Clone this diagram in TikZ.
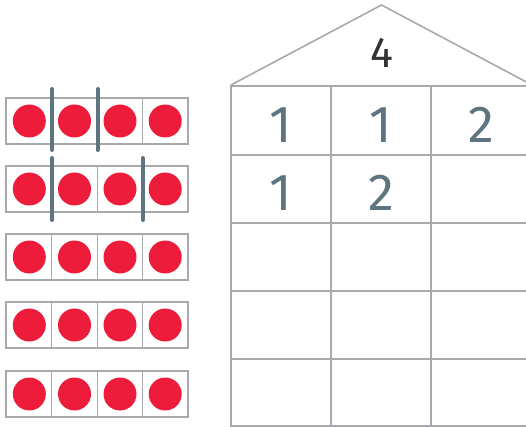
\documentclass[tikz,border=0pt]{standalone}
\usepackage{fontspec}
\setmainfont{Fira Sans}
\definecolor{framegray}{HTML}{A7A9AC}
\definecolor{dotred}{HTML}{EE1C3B}
\definecolor{slate}{HTML}{5E7480}
\definecolor{darktxt}{HTML}{333333}
\begin{document}
\begin{tikzpicture}[x=1pt,y=-1pt,
  frameline/.style={draw=framegray,line width=2pt},
  cellline/.style={draw=framegray,line width=1.2pt},
  dot/.style={circle,fill=dotred,inner sep=0pt,minimum size=33pt},
  cut/.style={draw=slate,line width=4pt,line cap=round},
  gridline/.style={draw=framegray,line width=2pt},
  roofline/.style={draw=framegray,line width=1.6pt},
  num/.style={text=slate,font=\fontsize{52}{52}\selectfont,inner sep=0pt},
  topnum/.style={text=darktxt,font=\fontsize{43}{43}\selectfont,inner sep=0pt}]
\useasboundingbox (0,0) rectangle (526,427);
% ten frames
\foreach \r/\y in {1/98,2/166,3/234,4/302,5/371}{
  \fill[white] (6,\y) rectangle (188,\y+46);
  \foreach \c/\x in {1/51.7,2/97.3,3/142.7}{
    \draw[cellline] (\x,\y) -- (\x,\y+46);
  }
  \draw[frameline] (6,\y) rectangle (188,\y+46);
  \foreach \c/\x in {1/29.3,2/74.5,3/120,4/165.2}{
    \node[dot] (d\r\c) at (\x,\y+23) {};
  }
}
% cut marks
\coordinate (a1) at (51.7,89);  \coordinate (a2) at (51.7,150);
\coordinate (b1) at (97.5,89);  \coordinate (b2) at (97.5,150);
\coordinate (c1) at (52,158);   \coordinate (c2) at (52,220);
\coordinate (e1) at (142.7,158);\coordinate (e2) at (142.7,220);
\draw[cut] (a1) -- (a2);
\draw[cut] (b1) -- (b2);
\draw[cut] (c1) -- (c2);
\draw[cut] (e1) -- (e2);
% house roof
\coordinate (apex) at (381.5,5);
\coordinate (roofL) at (231,85);
\coordinate (roofR) at (532,85);
\draw[roofline] (roofL) -- (apex) -- (roofR);
% grid
\foreach \y in {86,155,223,291,359,426}{
  \draw[gridline] (231,\y) -- (540,\y);
}
\foreach \x in {231,331,431}{
  \draw[gridline] (\x,86) -- (\x,427);
}
\draw[gridline] (231,85) -- (231,427);
% numbers
\node[topnum] (top) at (381.5,53) {4};
\node[num] (n11) at (281,125) {1};
\node[num] (n12) at (381,125) {1};
\node[num] (n13) at (481,125) {2};
\node[num] (n21) at (281,193) {1};
\node[num] (n22) at (381,193) {2};
\end{tikzpicture}
\end{document}
